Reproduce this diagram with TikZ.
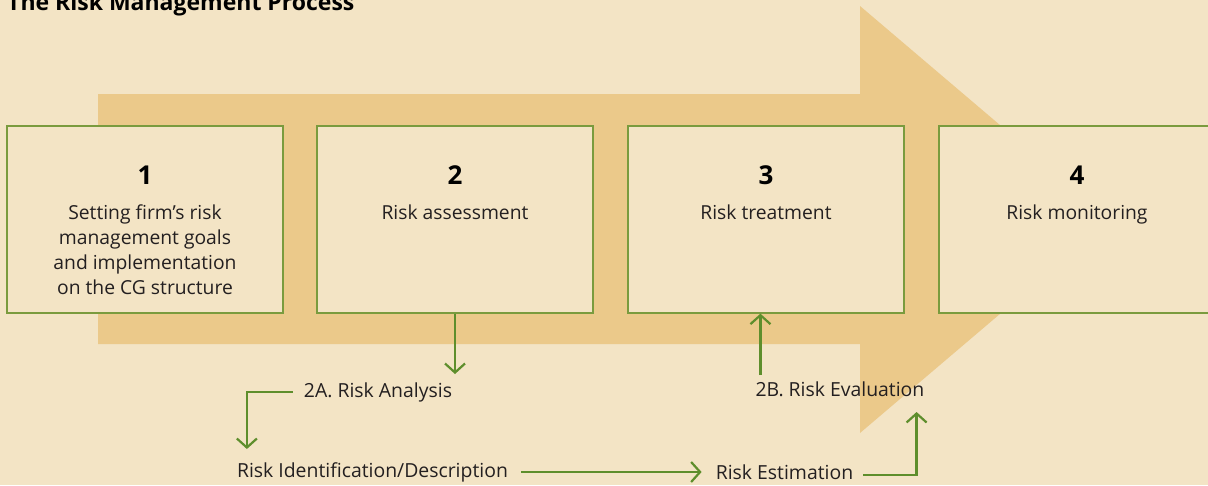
\documentclass[tikz,border=0pt]{standalone}
\usepackage{fontspec}
\setmainfont{Open Sans}
\usepackage{tikz}
\usetikzlibrary{arrows.meta, positioning, calc}
\definecolor{rmpaper}{HTML}{F3E4C5}
\definecolor{rmtan}{HTML}{EBC98A}
\definecolor{rmgreen}{HTML}{5E8E2C}
\definecolor{rmedge}{HTML}{7A9B3E}
\definecolor{rmink}{HTML}{231F20}

\begin{document}
\begin{tikzpicture}[x=1pt, y=-1pt,
    stage/.style={draw=rmedge, fill=rmpaper, line width=1.3pt, minimum width=276pt, minimum height=187pt, inner sep=0pt},
    stagenum/.style={font=\fontsize{26}{26}\selectfont\bfseries, text=black, inner sep=0pt},
    stagetxt/.style={font=\fontsize{19.3}{25}\selectfont, text=rmink, align=center, inner sep=0pt, anchor=north},
    subtxt/.style={font=\fontsize{19.4}{19.4}\selectfont, text=rmink, inner sep=0pt},
    flow/.style={-{Straight Barb[length=9pt, width=20pt]}, line width=2.2pt, rmgreen}]
    \clip (0,0) rectangle (1208,485);
    \fill[rmpaper] (0,0) rectangle (1208,485);

    % Big arrow
    \fill[rmtan] (98,94) -- (860,94) -- (860,6) -- (1111,219.5) -- (860,433) -- (860,344) -- (98,344) -- cycle;

    % Title
    \node[anchor=base west, inner sep=0pt, font=\fontsize{23}{23}\selectfont\bfseries] (title) at (7,10) {The Risk Management Process};

    % Stages
    \node[stage] (box1) at (145,219.5) {};
    \node[stage] (box2) at (455,219.5) {};
    \node[stage] (box3) at (766,219.5) {};
    \node[stage] (box4) at (1077,219.5) {};

    \node[stagenum] (num1) at ([yshift=-50pt]box1.north) {1};
    \node[stagenum] (num2) at ([yshift=-50pt]box2.north) {2};
    \node[stagenum] (num3) at ([yshift=-50pt]box3.north) {3};
    \node[stagenum] (num4) at ([yshift=-50pt]box4.north) {4};

    \node[stagetxt] (txt1) at ([yshift=-79pt]box1.north) {Setting firm’s risk\\management goals\\and implementation\\on the CG structure};
    \node[stagetxt] (txt2) at ([yshift=-79pt]box2.north) {Risk assessment};
    \node[stagetxt] (txt3) at ([yshift=-79pt]box3.north) {Risk treatment};
    \node[stagetxt] (txt4) at ([yshift=-79pt]box4.north) {Risk monitoring};

    % Sub-steps
    \node[subtxt] (ana) at (378,392) {2A. Risk Analysis};
    \node[subtxt] (ident) at (372.5,472) {Risk Identification/Description};
    \node[subtxt] (est) at (784.5,472) {Risk Estimation};
    \node[subtxt] (eval) at (840,389) {2B. Risk Evaluation};

    % Links
    \draw[flow] (box2.south) -- (box2.south |- 0,374);
    \draw[flow] ([xshift=-11pt]ana.west) -| ([xshift=10pt]ident.west |- 0,449);
    \draw[flow] ([xshift=13pt]ident.east) -- ([xshift=-14pt]est.west);
    \draw[flow] ([xshift=10pt,yshift=-3pt]est.east) -| ([xshift=-8pt]eval.east |- 0,412);
    \draw[flow] ([xshift=5pt]eval.west |- 0,375) -- ([xshift=5pt]eval.west |- box3.south);
\end{tikzpicture}
\end{document}
